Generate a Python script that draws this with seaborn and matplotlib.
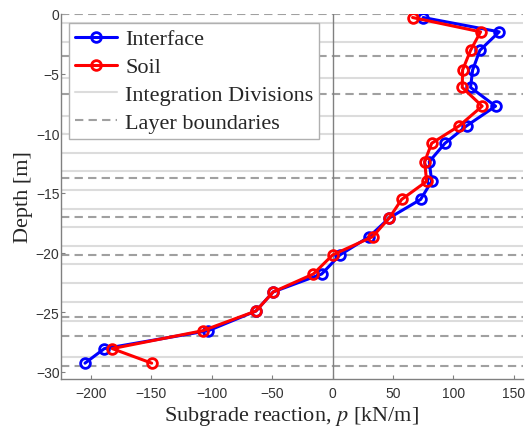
import numpy as np
import pandas as pd
import matplotlib
matplotlib.use("Agg")
import matplotlib.pyplot as plt
from matplotlib.lines import Line2D
import seaborn as sns

# Depth of the evaluation points [m]
depth = [-0.3, -1.5, -3.05, -4.7, -6.16, -7.73, -9.38, -10.84, -12.38, -14.03,
         -15.55, -17.1, -18.67, -20.2, -21.8, -23.3, -24.9, -26.55, -28.05, -29.27]

# Subgrade reaction p [kN/m]
p_interface = [75.0, 137.9, 121.9, 115.9, 114.2, 134.9, 110.9, 93.0, 80.0, 82.0,
               72.8, 46.9, 30.3, 6.0, -9.1, -49.2, -63.5, -103.0, -189.0, -205.0]
p_soil = [66.2, 122.5, 114.2, 107.6, 107.3, 123.8, 104.8, 82.0, 76.2, 77.8,
          57.1, 46.9, 33.1, 0.0, -16.0, -49.2, -63.5, -107.6, -182.5, -149.8]

# Integration divisions and layer boundaries [m]
integration_divisions = [-0.75, -2.32, -5.36, -8.52, -10.06, -11.65, -13.13, -14.75,
                         -16.35, -17.88, -19.42, -20.96, -22.55, -24.12, -25.71, -28.78]
layer_boundaries = [0.0, -3.5, -6.7, -13.77, -16.98, -20.2, -25.4, -26.96, -29.5]

x_ticks = [-200, -150, -100, -50, 0, 50, 100, 150]
y_ticks = [0, -5, -10, -15, -20, -25, -30]

df = pd.DataFrame({
    "depth": depth * 2,
    "p": p_interface + p_soil,
    "series": ["Interface"] * len(depth) + ["Soil"] * len(depth),
})
colors = {"Interface": "#0000ff", "Soil": "#ff0000"}

sns.set_style("ticks")
plt.rcParams["mathtext.fontset"] = "stix"

fig = plt.figure(figsize=(5.27, 4.27), dpi=100)
ax = fig.add_axes([0.1157, 0.110, 0.876, 0.855])

for d in integration_divisions:
    ax.axhline(d, color="#dcdcdc", lw=1.5, zorder=1)
for d in layer_boundaries:
    ax.axhline(d, color="#a0a0a0", lw=1.5, dashes=(4, 2.5), zorder=1.5)
ax.axvline(0, color="#808080", lw=1, zorder=1.6)

for name, sub in df.groupby("series"):
    c = colors[name]
    sns.lineplot(data=sub, x="p", y="depth", ax=ax, sort=False, estimator=None,
                 orient="y", color=c, lw=2.2, marker="o", markersize=7,
                 markerfacecolor="none", markeredgecolor=c, markeredgewidth=2,
                 zorder=3 if name == "Soil" else 2.5)

ax.set_xlim(-224.9, 157.3)
ax.set_ylim(-30.6, 0)
ax.set_xticks(x_ticks)
ax.set_yticks(y_ticks)

tick_font = {"family": "Liberation Sans", "size": 10, "color": "#333333"}
ax.set_xticklabels([str(t).replace("-", "\u2212") for t in x_ticks], fontdict=tick_font)
ax.set_yticklabels([str(t).replace("-", "\u2212") for t in y_ticks], fontdict=tick_font)
ax.tick_params(direction="in", length=3, color="#808080")
ax.tick_params(axis="x", pad=5)
ax.tick_params(axis="y", pad=1)

for s in ["top", "right"]:
    ax.spines[s].set_visible(False)
for s in ["left", "bottom"]:
    ax.spines[s].set_color("#808080")
    ax.spines[s].set_linewidth(1)

label_font = {"family": "Liberation Serif", "size": 16}
ax.set_xlabel("Subgrade reaction, $p$ [kN/m]", fontdict=label_font, labelpad=3)
ax.set_ylabel("Depth [m]", fontdict=label_font, labelpad=2)

handles = [
    Line2D([], [], color="#0000ff", lw=2.2, marker="o", markersize=7,
           markerfacecolor="none", markeredgewidth=2),
    Line2D([], [], color="#ff0000", lw=2.2, marker="o", markersize=7,
           markerfacecolor="none", markeredgewidth=2),
    Line2D([], [], color="#dcdcdc", lw=1.5),
    Line2D([], [], color="#a0a0a0", lw=1.5, dashes=(4, 2.5)),
]
labels = ["Interface", "Soil", "Integration Divisions", "Layer boundaries"]
leg = ax.legend(handles, labels, loc="upper left", bbox_to_anchor=(0.018, 0.975),
                borderaxespad=0, prop={"family": "Liberation Serif", "size": 16},
                handlelength=1.9, handletextpad=0.35, labelspacing=0.33,
                borderpad=0.26, fancybox=False, framealpha=1, edgecolor="#b0b0b0")
leg.get_frame().set_linewidth(1)
leg.set_zorder(5)

fig.savefig("out.png", dpi=100)
